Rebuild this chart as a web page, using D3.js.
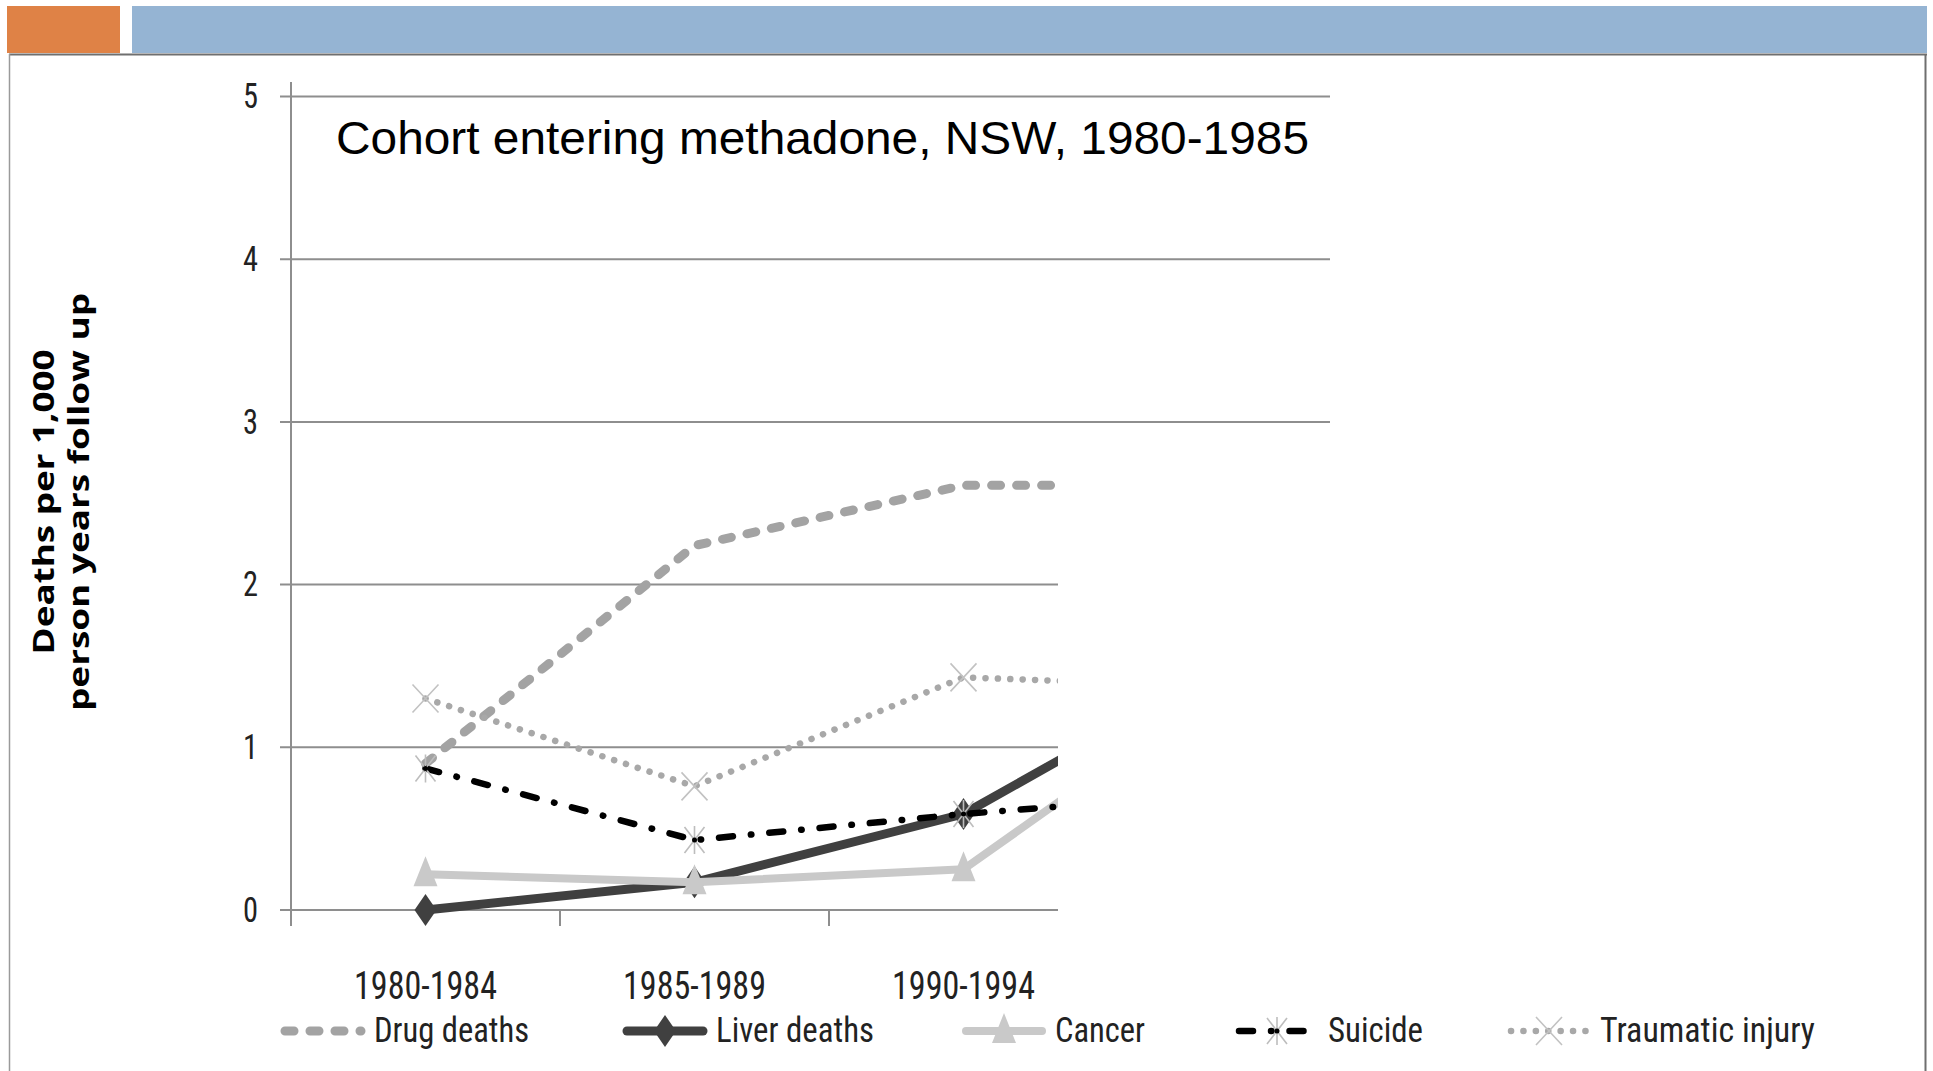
<!DOCTYPE html>
<html>
<head>
<meta charset="utf-8">
<script src="https://cdn.jsdelivr.net/npm/d3@7"></script>
<style>
  html, body { margin: 0; padding: 0; background: #fff; }
  svg { display: block; }
</style>
</head>
<body>
<div id="chart"></div>
<script>
"use strict";

// chart values
const categories = ["1980-1984", "1985-1989", "1990-1994", "1995-1999"];
const drugDeaths = [0.9, 2.24, 2.61, 2.61];
const liverDeaths = [0.0, 0.17, 0.59, 1.52];
const cancer = [0.22, 0.17, 0.25, 1.42];
const suicide = [0.87, 0.43, 0.59, 0.72];
const traumaticInjury = [1.3, 0.76, 1.43, 1.37];
const seriesNames = ["Drug deaths", "Liver deaths", "Cancer", "Suicide", "Traumatic injury"];
const yTicks = [0, 1, 2, 3, 4, 5];
const chartTitle = "Cohort entering methadone, NSW, 1980-1985";
const yTitle = ["Deaths per 1,000", "person years follow up"];

const W = 1933, H = 1071;
const narrow = "'Liberation Sans Narrow', 'Roboto Condensed', 'DejaVu Sans Condensed', 'Liberation Sans', sans-serif";

const svg = d3.select("#chart")
  .append("svg")
  .attr("width", W)
  .attr("height", H)
;

// slide frame
svg.append("rect").attr("x", 7).attr("y", 6).attr("width", 113).attr("height", 47).attr("fill", "#df8246");
svg.append("rect").attr("x", 132).attr("y", 6).attr("width", 1795).attr("height", 47).attr("fill", "#95b4d3");
svg.append("line").attr("x1", 9).attr("x2", 1927).attr("y1", 54.5).attr("y2", 54.5).attr("stroke", "#6f6f6f").attr("stroke-width", 2);
svg.append("line").attr("x1", 9.5).attr("x2", 9.5).attr("y1", 54).attr("y2", H).attr("stroke", "#9a9a9a").attr("stroke-width", 1.5);
svg.append("line").attr("x1", 1925.5).attr("x2", 1925.5).attr("y1", 54).attr("y2", H).attr("stroke", "#6f6f6f").attr("stroke-width", 2);

const x = d3.scaleBand()
  .domain(categories)
  .range([291, 291 + 269 * categories.length])
  .paddingInner(0)
  .paddingOuter(0)
;
const y = d3.scaleLinear()
  .domain([0, 5])
  .range([910, 96.5])
;
const cx = d => x(d) + x.bandwidth() / 2;

// part of the chart is hidden behind a white box on the slide
const defs = svg.append("defs");
const clip = defs.append("clipPath").attr("id", "plotClip");
clip.append("rect").attr("x", 0).attr("y", 0).attr("width", 1330).attr("height", 450);
clip.append("rect").attr("x", 0).attr("y", 450).attr("width", 1058).attr("height", 560);

const plot = svg.append("g").attr("clip-path", "url(#plotClip)");

// gridlines
plot.selectAll("line.grid")
  .data(yTicks)
  .enter()
  .append("line")
  .attr("class", "grid")
  .attr("x1", 280)
  .attr("x2", 1400)
  .attr("y1", d => y(d))
  .attr("y2", d => y(d))
  .attr("stroke", "#8e8e8e")
  .attr("stroke-width", 2)
;

// x ticks between categories
plot.selectAll("line.xtick")
  .data(categories.slice(1))
  .enter()
  .append("line")
  .attr("class", "xtick")
  .attr("x1", d => x(d))
  .attr("x2", d => x(d))
  .attr("y1", y(0))
  .attr("y2", y(0) + 16)
  .attr("stroke", "#8e8e8e")
  .attr("stroke-width", 2)
;

// y axis line
svg.append("line")
  .attr("x1", 291).attr("x2", 291)
  .attr("y1", 82).attr("y2", y(0) + 16)
  .attr("stroke", "#8e8e8e")
  .attr("stroke-width", 2)
;

// y axis labels
const yAxis = d3.axisLeft(y).tickValues(yTicks).tickSize(0).tickPadding(0).tickFormat(d3.format("d"));
const yg = svg.append("g")
  .attr("transform", "translate(258, 0)")
  .call(yAxis)
;
yg.select(".domain").remove();
yg.selectAll("text")
  .attr("font-family", narrow)
  .attr("font-size", 35)
  .attr("fill", "#222")
  .attr("textLength", 15)
  .attr("lengthAdjust", "spacingAndGlyphs")
;

// x axis labels
const xAxis = d3.axisBottom(x).tickSize(0).tickPadding(0);
const xg = plot.append("g")
  .attr("transform", "translate(0, 971)")
  .call(xAxis)
;
xg.select(".domain").remove();
xg.selectAll("text")
  .attr("font-family", narrow)
  .attr("font-size", 39)
  .attr("fill", "#222")
  .attr("dy", "0.72em")
  .attr("textLength", 143)
  .attr("lengthAdjust", "spacingAndGlyphs")
;

// series
const series = [
  { name: seriesNames[0], values: drugDeaths, color: "#a3a3a3", width: 9, dash: "9,16", marker: "none" },
  { name: seriesNames[1], values: liverDeaths, color: "#404040", width: 9, dash: null, marker: "diamond" },
  { name: seriesNames[2], values: cancer, color: "#c9c9c9", width: 8, dash: null, marker: "triangle" },
  { name: seriesNames[3], values: suicide, color: "#000000", width: 6.5, dash: "14,18,0.5,18", marker: "star" },
  { name: seriesNames[4], values: traumaticInjury, color: "#a8a8a8", width: 6.5, dash: "0.1,12.3", marker: "x" }
];

const line = d3.line()
  .x((d, i) => cx(categories[i]))
  .y(d => y(d))
;

function drawMarker(g, kind, px, py, s) {
  if (kind === "diamond") {
    g.append("path")
      .attr("d", `M${px},${py - 16}L${px + 11},${py}L${px},${py + 16}L${px - 11},${py}Z`)
      .attr("fill", s.color);
  } else if (kind === "triangle") {
    g.append("path")
      .attr("d", `M${px},${py - 18}L${px + 12},${py + 12}L${px - 12},${py + 12}Z`)
      .attr("fill", s.color);
  } else if (kind === "star") {
    g.append("path")
      .attr("d", `M${px - 10},${py - 13}L${px + 10},${py + 13}M${px + 10},${py - 13}L${px - 10},${py + 13}M${px},${py - 14}L${px},${py + 14}`)
      .attr("stroke", "#bdbdbd").attr("stroke-width", 1.6).attr("fill", "none");
    g.append("circle").attr("cx", px).attr("cy", py).attr("r", 2.5).attr("fill", "#000");
  } else if (kind === "x") {
    g.append("path")
      .attr("d", `M${px - 13},${py - 14}L${px + 13},${py + 14}M${px + 13},${py - 14}L${px - 13},${py + 14}`)
      .attr("stroke", "#c2c2c2").attr("stroke-width", 1.6).attr("fill", "none");
  }
}

series.forEach(s => {
  const g = plot.append("g");
  g.append("path")
    .datum(s.values)
    .attr("d", line)
    .attr("fill", "none")
    .attr("stroke", s.color)
    .attr("stroke-width", s.width)
    .attr("stroke-linecap", "round")
    .attr("stroke-linejoin", "round")
    .attr("stroke-dasharray", s.dash)
  ;
  s.values.forEach((v, i) => drawMarker(g, s.marker, cx(categories[i]), y(v), s));
});

// title
svg.append("text")
  .attr("x", 336)
  .attr("y", 154)
  .attr("font-family", "'Liberation Sans', Arial, sans-serif")
  .attr("font-size", 47)
  .attr("fill", "#000")
  .attr("textLength", 973)
  .attr("lengthAdjust", "spacingAndGlyphs")
  .text(chartTitle)
;

// y axis title
const yt = svg.append("text")
  .attr("transform", "translate(0, 502) rotate(-90)")
  .attr("font-family", "'Open Sans', 'Liberation Sans', sans-serif")
  .attr("font-weight", "bold")
  .attr("font-size", 28)
  .attr("fill", "#000")
  .attr("text-anchor", "middle")
;
yt.append("tspan").attr("x", 0).attr("y", 54).attr("textLength", 305).attr("lengthAdjust", "spacingAndGlyphs").text(yTitle[0]);
yt.append("tspan").attr("x", 0).attr("y", 89).attr("textLength", 418).attr("lengthAdjust", "spacingAndGlyphs").text(yTitle[1]);

// legend
const legendX = [281, 623, 962, 1235, 1507];
const legendTextW = [155, 158, 90, 95, 215];
const legend = svg.append("g");
series.forEach((s, i) => {
  const g = legend.append("g").attr("transform", `translate(${legendX[i]}, 1031)`);
  g.append("line")
    .attr("x1", 4).attr("x2", 80)
    .attr("y1", 0).attr("y2", 0)
    .attr("stroke", s.color)
    .attr("stroke-width", s.width)
    .attr("stroke-linecap", "round")
    .attr("stroke-dasharray", s.dash)
  ;
  drawMarker(g, s.marker, 42, 0, s);
  g.append("text")
    .attr("x", 93)
    .attr("y", 11)
    .attr("font-family", narrow)
    .attr("font-size", 35)
    .attr("fill", "#222")
    .attr("textLength", legendTextW[i])
    .attr("lengthAdjust", "spacingAndGlyphs")
    .text(s.name)
  ;
});
</script>
</body>
</html>
